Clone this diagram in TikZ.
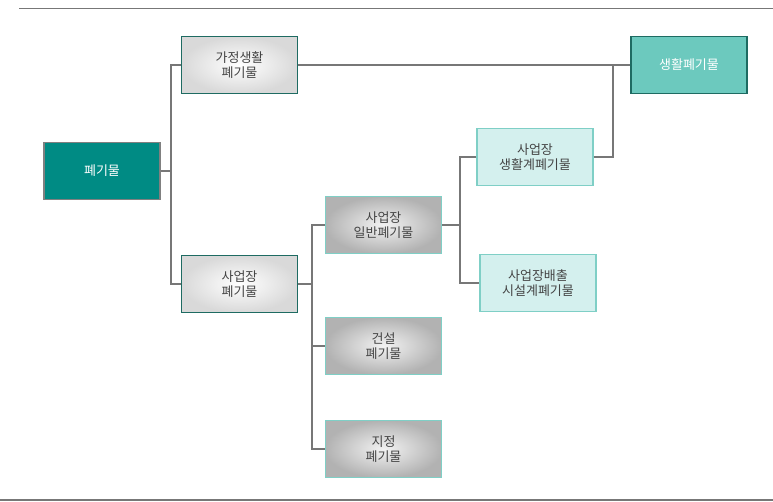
\documentclass[tikz,border=0pt]{standalone}
\usepackage{fontspec}
\setmainfont{Noto Sans CJK KR}
\usetikzlibrary{positioning}
\definecolor{teal1}{HTML}{008B84}
\definecolor{teal2}{HTML}{1E6B62}
\definecolor{lteal}{HTML}{7FCFC6}
\definecolor{cyanf}{HTML}{D4F0EE}
\definecolor{midteal}{HTML}{6CC9BE}
\definecolor{txt}{HTML}{444444}
\definecolor{ln}{HTML}{777777}
\tikzset{
  box/.style={minimum width=116pt,minimum height=57pt,align=center,font=\fontsize{13}{15}\selectfont,text=txt,line width=1.3pt},
  whitebox/.style={box,draw=teal2,inner color=white,outer color=gray!30},
  graybox/.style={box,draw=lteal,inner color=gray!10,outer color=gray!60},
  cyanbox/.style={box,draw=lteal,fill=cyanf},
  conn/.style={draw=ln,line width=1.3pt},
}
\begin{document}
\begin{tikzpicture}[x=1pt,y=-1pt]
\useasboundingbox (0,0) rectangle (773,502);
\draw[ln,line width=1pt] (19,9) -- (773,9);
\draw[ln,line width=2pt] (0,500) -- (773,500);
\node[box,draw=gray,fill=teal1,text=white] (root) at (102,171) {폐기물};
\node[whitebox] (home) at (239.5,65) {가정생활\\폐기물};
\node[whitebox] (biz) at (239.5,284) {사업장\\폐기물};
\node[graybox] (gen) at (383.5,225) {사업장\\일반폐기물};
\node[graybox] (con) at (383.5,346) {건설\\폐기물};
\node[graybox] (des) at (383.5,449) {지정\\폐기물};
\node[cyanbox] (life) at (535,157) {사업장\\생활계폐기물};
\node[cyanbox] (fac) at (538,283) {사업장배출\\시설계폐기물};
\node[box,draw=teal2,fill=midteal,text=white] (mun) at (689,65) {생활폐기물};
\draw[conn] (root.east) -- (171,171);
\draw[conn] (home.west) -| (171,171) |- (biz.west);
\draw[conn] (biz.east) -- (312,284);
\draw[conn] (gen.west) -| (312,284) |- (des.west);
\draw[conn] (312,346) -- (con.west);
\draw[conn] (gen.east) -- (460,225);
\draw[conn] (life.west) -| (460,225) |- (fac.west);
\draw[conn] (home.east) -- (mun.west);
\draw[conn] (life.east) -| (613,65);
\end{tikzpicture}
\end{document}
